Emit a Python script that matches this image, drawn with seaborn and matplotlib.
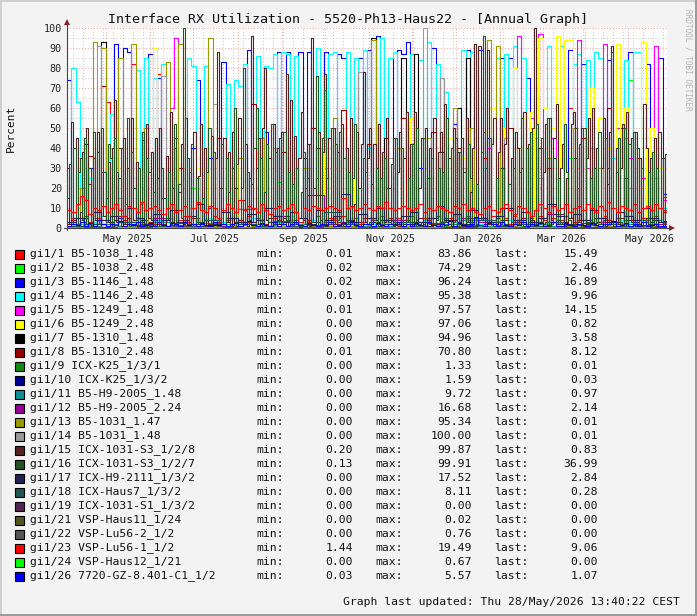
import numpy as np
import pandas as pd
import matplotlib
matplotlib.use("Agg")
import matplotlib.pyplot as plt
from matplotlib.patches import Rectangle, Polygon
from matplotlib.lines import Line2D
import seaborn as sns

# ---------------- data ----------------
START = pd.Timestamp("2025-04-03 13:40")
END = pd.Timestamp("2026-05-28 13:40")
SPAN_DAYS = 420

names = ["gi1/1 B5-1038_1.48", "gi1/2 B5-1038_2.48", "gi1/3 B5-1146_1.48",
         "gi1/4 B5-1146_2.48", "gi1/5 B5-1249_1.48", "gi1/6 B5-1249_2.48",
         "gi1/7 B5-1310_1.48", "gi1/8 B5-1310_2.48", "gi1/9 ICX-K25_1/3/1",
         "gi1/10 ICX-K25_1/3/2", "gi1/11 B5-H9-2005_1.48", "gi1/12 B5-H9-2005_2.24",
         "gi1/13 B5-1031_1.47", "gi1/14 B5-1031_1.48", "gi1/15 ICX-1031-S3_1/2/8",
         "gi1/16 ICX-1031-S3_1/2/7", "gi1/17 ICX-H9-2111_1/3/2", "gi1/18 ICX-Haus7_1/3/2",
         "gi1/19 ICX-1031-S1_1/3/2", "gi1/21 VSP-Haus11_1/24", "gi1/22 VSP-Lu56-2_1/2",
         "gi1/23 VSP-Lu56-1_1/2", "gi1/24 VSP-Haus12_1/21", "gi1/26 7720-GZ-8.401-C1_1/2"]
colors = ["#FF0000", "#00FF00", "#0000FF", "#00FFFF", "#FF00FF", "#FFFF00",
          "#000000", "#990000", "#148A14", "#000099", "#109090", "#990099",
          "#999900", "#999999", "#552222", "#225522", "#222255", "#225555",
          "#552255", "#555522", "#555555", "#FF0000", "#00FF00", "#0000FF"]
leg_min = [0.01, 0.02, 0.02, 0.01, 0.01, 0.00, 0.00, 0.01, 0.00, 0.00, 0.00, 0.00,
           0.00, 0.00, 0.20, 0.13, 0.00, 0.00, 0.00, 0.00, 0.00, 1.44, 0.00, 0.03]
leg_max = [83.86, 74.29, 96.24, 95.38, 97.57, 97.06, 94.96, 70.80, 1.33, 1.59, 9.72, 16.68,
           95.34, 100.00, 99.87, 99.91, 17.52, 8.11, 0.00, 0.02, 0.76, 19.49, 0.67, 5.57]
leg_last = [15.49, 2.46, 16.89, 9.96, 14.15, 0.82, 3.58, 8.12, 0.01, 0.03, 0.97, 2.14,
            0.01, 0.01, 0.83, 36.99, 2.84, 0.28, 0.00, 0.00, 0.00, 9.06, 0.00, 1.07]

gi1_1 = [3,5,2,4,6,3,2,5,4,63, 3,2,6,4,3,82,5,2,4,3,
         2,77,4,3,5,2,4,6,3,2, 5,3,4,2,6,3,2,4,5,3,
         4,2,6,3,5,4,2,3,5,4, 2,6,3,4,2,5,3,4,6,2,
         3,5,4,2,6,3,4,5,2,3, 5,4,2,6,3,4,2,5,3,4,
         6,2,3,5,4,2,6,3,4,5, 2,3,4,6,2,5,3,4,2,6,
         3,4,5,2,6,3,4,2,5,3, 6,4,2,5,3,4,6,60,3,2,
         45,4,3,5,2,6,4,3,5,2, 4,6,3,2,5,4,3,6,4,15.5]
gi1_2 = [0.5,1,0.3,2,0.8,1.5,0.4,1,2,0.6, 1,0.3,1.2,0.5,2,0.8,1,0.4,1.5,0.7,
         1,0.5,2,0.8,1.2,0.4,1,0.6,1.8,20, 0.5,1,0.3,1.5,0.8,1,0.4,2,0.6,1,
         0.8,1.5,0.4,1,2,0.6,1,0.3,1.5,23, 0.7,1,0.4,2,0.8,1.2,0.5,1,0.6,1.5,
         30,0.8,1,0.4,2,0.6,1.2,0.5,1,0.8, 1.5,0.4,1,2,0.6,1,0.3,1.5,0.8,1,
         0.5,2,0.8,1,25,0.6,1.5,0.4,1,0.8, 2,0.5,1,0.7,1.5,0.4,1,2,0.6,1,
         0.8,1.5,0.4,1,2,0.6,1,0.3,1.5,0.8, 1,0.5,2,0.8,1.2,0.4,1,35,0.6,1.5,
         1,0.5,2,0.8,1,0.4,1.5,0.6,1,0.8, 2,74,1,0.5,1.5,0.8,1,0.4,2,2.5]
gi1_3 = [74,2,1,3,1,30,1,4,2,1, 3,92,5,90,88,2,1,3,2,87,
         4,75,2,1,3,45,1,4,2,40, 74,2,1,35,2,1,83,3,2,1,
         4,2,89,3,1,2,48,3,2,88, 3,88,4,2,88,5,88,3,40,1,
         88,3,2,87,85,4,2,3,85,2, 89,3,96,2,4,85,3,89,87,93,
         3,2,30,1,3,90,2,75,3,2, 52,3,1,89,2,4,89,2,45,1,
         3,85,2,85,3,2,4,75,2,3, 1,2,35,3,2,1,3,89,2,4,
         82,3,2,1,3,2,84,3,2,50, 1,88,3,2,1,82,3,2,85,16.9]
gi1_4 = [3,80,63,4,2,25,3,2,6,3, 57,4,3,2,5,3,79,4,85,3,
         75,4,82,3,5,2,30,3,85,81, 4,3,81,5,2,4,3,72,4,74,
         71,82,3,5,86,4,81,80,87,3, 88,87,4,86,3,35,2,4,90,3,
         5,87,88,4,3,88,5,85,3,89, 40,2,5,95,3,85,88,4,3,5,
         87,3,84,4,93,5,82,3,68,4, 3,5,89,3,88,4,2,30,3,4,
         85,3,87,4,91,3,85,5,3,45, 2,5,91,3,4,91,3,5,82,87,
         4,84,3,88,85,4,3,35,2,4, 84,3,88,88,4,3,5,25,4,10]
gi1_5 = [0.5,1,0.3,0.8,1,0.5,0.2,1,0.6,0.4, 1,0.3,0.8,0.5,1,0.2,0.7,0.4,1,0.5,
         0.8,0.3,1,0.5,60,95,0.6,1,0.4,0.8, 0.5,1,0.3,0.7,1,0.4,0.6,1,0.5,0.8,
         1,0.4,0.7,1,0.5,0.8,0.3,1,0.6,0.4, 1,0.5,0.8,0.3,1,0.6,0.4,1,0.5,0.7,
         0.4,1,0.6,0.3,1,0.5,0.8,0.4,1,0.6, 0.3,1,0.5,0.7,1,0.4,0.6,1,0.3,0.8,
         1,0.5,0.7,0.4,1,0.6,0.3,1,0.5,0.8, 0.4,1,0.6,0.3,1,0.5,0.7,0.4,40,0.6,
         0.5,1,0.4,0.8,1,96,0.5,1,55,0.4, 97,1,0.6,45,1,0.5,0.8,1,0.4,94,
         1,30,0.6,1,0.5,92,0.8,1,50,0.4, 1,35,0.6,1,25,0.8,1,91,0.5,14.2]
gi1_6 = [0.3,0.5,0.2,0.6,0.4,0.3,0.5,0.2,0.4,0.6, 0.3,0.5,0.2,0.4,0.6,0.3,0.5,0.2,0.4,0.3,
         90,0.5,0.3,0.6,0.4,0.2,0.5,0.3,0.4,0.6, 30,0.3,0.5,0.2,0.4,0.6,0.3,0.5,0.2,0.4,
         0.6,0.3,0.5,0.2,0.4,35,0.3,0.5,0.2,0.4, 0.6,0.3,40,0.5,0.2,0.4,0.6,0.3,0.5,45,
         0.3,0.5,0.2,0.4,0.6,0.3,30,0.5,0.2,0.4, 0.6,0.3,0.5,0.2,0.4,0.6,0.3,0.5,0.2,0.4,
         55,0.3,0.5,0.2,0.4,0.6,0.3,0.5,0.2,45, 0.4,0.6,35,0.3,0.5,0.2,0.4,0.6,0.3,60,
         0.5,50,0.3,0.6,80,0.4,55,0.2,58,0.5, 95,60,0.3,50,96,0.4,94,94,0.3,0.5,
         45,0.4,70,0.3,55,0.6,40,0.5,92,0.3, 60,0.4,0.5,0.3,93,0.6,50,0.4,30,0.8]
gi1_7 = [0.5,1,0.3,0.8,42,0.5,0.2,1,93,0.4, 1,0.3,0.8,0.5,1,0.2,0.7,0.4,1,0.5,
         0.8,0.3,1,0.5,0.6,0.4,0.6,1,0.4,0.8, 0.5,1,0.3,0.7,1,0.4,0.6,1,0.5,20,
         1,0.4,0.7,1,0.5,0.8,0.3,1,0.6,0.4, 1,0.5,0.8,0.3,1,35,0.4,1,0.5,0.7,
         0.4,1,0.6,0.3,1,0.5,0.8,0.4,1,0.6, 0.3,95,0.5,0.7,45,0.4,0.6,1,85,0.8,
         1,87,0.7,0.4,1,0.6,0.3,38,0.5,0.8, 0.4,60,0.6,85,1,0.5,0.7,0.4,1,0.6,
         0.5,30,0.4,0.8,1,0.6,0.5,1,0.7,0.4, 40,1,0.6,0.3,1,0.5,0.8,1,35,0.6,
         1,0.5,0.6,1,0.5,0.4,0.8,1,0.6,0.4, 25,0.5,0.6,1,0.3,0.8,1,0.5,0.4,3.6]
gi1_8 = [2,4,1,3,5,36,2,4,71,3, 1,4,40,2,5,3,1,4,2,3,
         5,2,4,1,3,2,30,4,2,5, 3,1,4,2,3,45,2,5,1,3,
         4,2,3,62,1,4,2,5,3,2, 38,4,1,3,5,2,4,50,3,1,
         4,2,5,3,59,1,4,2,3,5, 42,1,3,4,2,5,3,1,55,4,
         2,3,5,1,4,48,2,3,5,1, 4,40,2,5,3,1,4,35,2,3,
         5,1,4,50,2,3,5,1,4,2, 3,5,30,1,4,2,3,5,1,4,
         45,2,3,5,1,4,60,2,3,5, 1,4,2,35,3,5,1,4,2,8.1]
gi1_9 = [0.2,0.5,0.1,0.8,0.3,0.4,1.3,0.2,0.6,0.1, 0.4,0.3,0.7,0.2,0.5,0.1,0.9,0.3,0.2,0.6,
         0.4,0.1,0.5,0.3,0.8,0.2,0.4,0.6,0.1,0.3, 0.5,0.2,0.4,0.1,0.01]
gi1_10 = [0.3,0.1,0.6,0.2,0.9,0.4,0.2,0.5,1.6,0.3, 0.1,0.7,0.2,0.4,0.3,0.8,0.1,0.5,0.3,0.2,
          0.6,0.4,0.1,0.9,0.3,0.2,0.5,0.4,0.1,0.7, 0.3,0.2,0.5,0.1,0.03]
gi1_11 = [0.5,1,2,0.8,1.5,3,0.7,1.2,2.5,0.6, 9.7,1,0.8,2,1.5,0.5,3,1.2,0.8,2,
          1,0.6,1.8,4,0.9,1.3,0.7,2.2,1,0.5, 1.6,0.8,2,1.1,0.97]
gi1_12 = [1,2,0.5,3,1.5,5,2.5,1,4,0.8, 2,1.2,6,0.8,16.7,2,3,0.7,1.8,4,
          1,2.5,0.6,5,3,1,2,0.8,7,1.5, 2.7,3.2,1,1.6,2.14]
gi1_13 = [0.5,1,0.3,20,1,0.5,93,91,90,0.4, 1,0.3,85,0.5,1,92,0.7,0.4,50,0.5,
          0.8,0.3,1,83,0.6,0.4,92,1,0.4,0.8, 0.5,1,0.3,95,1,0.4,0.6,1,0.5,0.8,
          35,0.4,0.7,1,0.5,45,0.3,1,0.6,0.4, 1,0.5,0.8,0.3,1,30,0.4,1,0.5,0.7,
          0.4,1,55,0.3,1,0.5,0.8,0.4,1,0.6, 0.3,94,0.5,0.7,1,0.4,0.6,40,0.3,0.8,
          1,0.5,0.7,0.4,45,0.6,0.3,1,0.5,0.8, 60,1,0.6,0.3,50,0.5,0.7,0.4,94,0.6,
          91,1,0.4,0.8,1,40,0.5,1,0.7,0.4, 1,0.5,35,0.3,1,0.5,0.8,1,50,0.6,
          1,0.5,0.6,1,30,0.4,0.8,1,0.6,0.4, 45,0.5,0.6,1,0.3,0.8,1,0.5,0.4,0.01]
gi1_14 = [0.3,0.5,0.2,0.6,0.4,0.3,0.5,91,0.4,0.6, 0.3,0.5,15,0.4,0.6,0.3,0.5,0.2,0.4,0.3,
          0.5,0.4,76,0.6,0.4,0.2,0.5,0.3,0.4,0.6, 25,0.3,0.5,0.2,62,0.6,0.3,0.5,0.2,0.4,
          0.6,0.3,0.5,0.2,0.4,0.5,0.3,0.5,40,0.4, 0.6,0.3,0.4,0.5,0.2,0.4,30,0.3,0.5,0.4,
          0.3,0.5,0.2,0.4,0.6,0.3,0.4,0.5,78,0.4, 0.6,0.3,0.5,0.2,0.4,35,0.3,0.5,0.2,0.4,
          0.5,0.3,0.5,100,0.4,0.6,0.3,75,0.2,0.5, 0.4,0.6,30,0.3,0.5,0.2,0.4,0.6,0.3,0.5,
          0.5,0.4,45,0.6,0.3,0.4,0.5,0.2,0.5,0.5, 25,0.6,0.3,0.5,0.4,0.4,0.5,0.2,0.3,0.5,
          0.4,0.4,40,0.3,0.5,0.6,0.4,0.5,0.3,0.3, 0.6,20,0.5,0.3,0.4,0.6,0.5,0.4,0.3,0.01]
gi1_15 = [30,2,53,5,45,1,8,38,3,50, 22,1,35,4,48,2,28,6,15,33,
          2,40,64,3,25,1,45,6,30,2, 55,4,33,1,12,44,2,52,5,38,
          1,45,3,50,15,2,36,5,58,1, 40,3,18,42,2,55,4,28,1,48,
          2,26,52,3,40,1,10,46,4,35, 88,2,20,45,3,38,1,48,5,32,
          55,2,14,42,1,25,96,3,30,45, 2,50,80,4,35,1,52,3,40,2,
          48,5,77,1,64,3,46,2,35,58, 4,20,42,1,95,3,25,48,2,38,
          77,1,45,4,50,2,38,5,52,1, 40,3,55,2,12,48,1,42,78,3,
          35,50,2,42,4,52,1,38,3,55, 20,2,45,5,28,48,1,35,58,3,
          42,1,58,4,20,45,2,50,3,40, 1,55,5,38,48,2,62,3,35,1,
          50,4,38,2,45,1,55,3,18,40, 92,2,91,5,48,1,89,3,42,55,
          2,38,55,4,42,60,1,35,3,48, 40,2,30,58,1,42,5,50,99.9,2,
          40,3,28,52,1,55,4,45,62,2, 30,42,1,25,5,52,58,2,20,3,
          50,1,35,55,4,60,2,40,3,30, 55,1,22,48,91,3,40,2,30,52,
          1,58,4,45,2,48,3,35,1,62, 40,2,35,4,45,1,48,3,35,0.83]
gi1_16 = [15,32,2,40,1,28,35,4,45,2, 30,1,48,5,38,2,50,28,3,42,
          35,1,45,28,3,40,2,12,55,1, 38,20,4,30,2,48,1,35,28,4,
          18,2,25,1,30,15,4,28,2,20, 52,1,22,5,100,3,35,2,42,1,
          25,2,3,15,4,28,50,2,38,4, 1,20,42,2,35,18,5,30,60,1,
          3,20,80,2,28,4,22,40,60,2, 35,1,18,42,3,52,2,38,4,45,
          2,48,3,28,1,22,4,30,5,18, 38,2,25,42,3,20,76,1,4,45,
          69,25,2,50,3,42,4,48,1,35, 2,28,4,25,52,1,20,2,35,28,
          2,3,22,4,30,1,25,2,35,20, 3,32,1,45,2,3,40,2,4,25,
          3,42,1,50,2,3,45,1,25,2, 35,2,4,30,1,28,3,55,2,40,
          3,45,1,38,2,28,3,42,25,2, 1,22,4,38,96,30,2,45,3,1,
          25,3,2,30,1,2,22,3,30,2, 4,28,55,1,40,3,48,2,1,52,
          3,45,2,3,55,1,2,35,4,25, 2,3,52,28,4,1,2,50,3,42,
          2,50,3,1,25,2,30,3,48,2, 4,45,30,2,88,1,28,45,3,1,
          50,2,42,3,48,1,40,2,30,4, 3,28,1,38,2,30,4,35,2,37]
gi1_17 = [3,5,2,8,4,6,3,10,5,2, 7,4,9,3,6,12,4,2,8,5, 3,7,4,10,6,3,8,5,2,9,
          4,6,17,3,7,5,10,4,2,6, 8,3,5,11,4,7,2,9,5,3, 6,10,4,8,3,5,12,6,2,7,
          4,9,5,3,8,6,4,10,5,2.8]
gi1_18 = [1,2,0.5,3,1.5,0.8,2.5,1,4,0.6, 2,1.2,3.5,0.8,1.5,8,2,0.7,1.8,3,
          1,2.5,0.6,1.5,4,1,2,0.8,3,1.5, 0.7,2.2,1,1.6,0.28]
gi1_19 = [0,0,0,0,0,0,0,0,0,0, 0,0,0,0,0,0,0,0,0,0, 0,0,0,0,0,0,0,0,0,0, 0,0,0,0,0]
gi1_21 = [0,0,0.01,0,0,0,0.02,0,0,0, 0,0.01,0,0,0,0,0,0.01,0,0, 0,0,0,0.02,0,0,0,0,0.01,0, 0,0,0,0,0]
gi1_22 = [0.1,0.3,0.05,0.2,0.4,0.1,0.76,0.2,0.1,0.3, 0.05,0.2,0.4,0.1,0.3,0.2,0.1,0.5,0.2,0.1,
          0.3,0.1,0.2,0.4,0.1,0.2,0.3,0.1,0.2,0.5, 0.1,0.3,0.2,0.1,0]
gi1_23 = [9,8,12,16,14,7,10,9,11,8, 10,12,9,6,11,10,8,13,9,10,
          11,9,7,10,12,8,9,11,6,10, 13,9,8,11,10,5,9,12,10,8,
          14,9,11,10,8,12,9,7,10,11, 9,10,12,8,3,10,9,11,10,9,
          10,11,10,9,15,10,11,9,10,12, 10,9,11,10,13,10,9,10,11,10,
          9,10,12,8,10,9,11,10,9,8, 11,10,12,9,10,8,7,10,11,9,
          8,10,12,9,7,11,10,8,6,9, 12,10,8,11,9,10,12,8,10,11,
          9,12,10,8,11,9,13,10,8,11, 10,9,12,8,10,11,9,12,10,9.06]
gi1_24 = [0.1,0.2,0.05,0.3,0.1,0.67,0.2,0.1,0.3,0.05, 0.2,0.1,0.4,0.1,0.2,0.3,0.1,0.2,0.05,0.1,
          0.3,0.1,0.2,0.1,0.4,0.2,0.1,0.3,0.1,0.2, 0.1,0.2,0.1,0.05,0]
gi1_26 = [1,2,1.5,3,1,2.5,1.2,4,1.8,1, 2.2,1.5,3.5,1,2,1.3,2.8,1,1.6,2.4,
          1.2,3,1.5,1,2.6,1.8,1,3.2,1.4,2, 1,2.5,1.7,1,3,1.3,2.2,1,1.8,2.7,
          1.1,2,3.4,1.5,1,2.3,1.6,1,2.8,1.2, 2,1,1.9,3.1,1.3,1,2.4,1.6,1,2.1,
          1.4,2.9,1,1.7,2.3,1,3.5,1.5,1,2.2, 1.8,1,2.6,1.3,1,2,1.5,3,1.1,1.8,
          1,2.4,1.6,1,2.9,1.3,1,2.1,1.7,3.3, 1,2.6,1.4,1,2,5.6,1.5,1,2.3,1.8,
          1,2.8,1.3,1,2.2,1.6,3,1,1.9,1.4, 2.5,1,1.7,3.2,1.2,1,2.4,1.6,1,2.1,
          1.5,1,2.7,1.3,1,2.2,1.8,3.4,1,1.6, 2.3,1,1.9,1.2,2.8,1,1.5,2.2,1,1.07]

values = [gi1_1, gi1_2, gi1_3, gi1_4, gi1_5, gi1_6, gi1_7, gi1_8, gi1_9, gi1_10,
          gi1_11, gi1_12, gi1_13, gi1_14, gi1_15, gi1_16, gi1_17, gi1_18, gi1_19,
          gi1_21, gi1_22, gi1_23, gi1_24, gi1_26]

title = "Interface RX Utilization - 5520-Ph13-Haus22 - [Annual Graph]"
ylabel = "Percent"
footer = "Graph last updated: Thu 28/May/2026 13:40:22 CEST"
watermark = "RRDTOOL / TOBI OETIKER"
yticks = list(range(0, 101, 10))

# ---------------- long table ----------------
frames = []
for nm, vals in zip(names, values):
    n = len(vals)
    step = pd.Timedelta(days=SPAN_DAYS / n)
    dates = [START + i * step for i in range(n)] + [END]
    frames.append(pd.DataFrame({"date": dates, "value": list(vals) + [vals[-1]], "series": nm}))
df = pd.concat(frames, ignore_index=True)

# ---------------- figure ----------------
sns.set_style("white")
plt.rcParams["font.family"] = ["DejaVu Sans Mono"]
W, H = 697, 616
BG = "#F3F3F3"
fig = plt.figure(figsize=(W / 100, H / 100), dpi=100, facecolor=BG)


def fx(x):
    return x / W


def fy(y):
    return 1 - y / H


L, R, T, B = 67, 667, 28, 228
ax = fig.add_axes([fx(L), fy(B), (R - L) / W, (B - T) / H])
ax.set_facecolor("white")
for s in ax.spines.values():
    s.set_visible(False)

# grid
minor_c, major_c = "#C8C8C8", "#EBA0A0"
dots = (0, (1, 2))
for d in pd.date_range(START, END, freq="W-MON"):
    ax.axvline(d, color=minor_c, lw=0.7, ls=dots, zorder=0.5)
month_starts = pd.date_range("2025-05-01", "2026-05-01", freq="MS")
for d in month_starts:
    ax.axvline(d, color=major_c, lw=0.7, ls=dots, zorder=0.6)
for v in range(5, 100, 10):
    ax.axhline(v, color=minor_c, lw=0.7, ls=dots, zorder=0.5)
for v in range(10, 101, 10):
    ax.axhline(v, color=major_c, lw=0.7, ls=dots, zorder=0.6)

sns.lineplot(data=df, x="date", y="value", hue="series", hue_order=names,
             palette=dict(zip(names, colors)), estimator=None, sort=False,
             drawstyle="steps-post", linewidth=0.8, legend=False, ax=ax, zorder=2)

ax.set_xlim(START, END)
ax.set_ylim(0, 100)
ax.set_xlabel("")
ax.set_ylabel("")
ax.set_yticks(yticks)
ax.set_yticklabels([str(v) for v in yticks])
ax.tick_params(axis="y", length=0, pad=3.6, labelsize=7.3, colors="#222222")
ax.set_xticks(month_starts)
ax.set_xticklabels([""] * len(month_starts))
ax.tick_params(axis="x", which="major", length=2.5, color="#E06060", width=0.7)
lab_dates = pd.date_range("2025-05-01", "2026-05-01", freq="2MS")
ax.set_xticks(lab_dates + pd.Timedelta(days=15), minor=True)
ax.set_xticklabels([d.strftime("%b %Y") for d in lab_dates], minor=True)
ax.tick_params(axis="x", which="minor", length=0, pad=4, labelsize=7.3, colors="#222222")

# axes lines + arrows
axis_c, arrow_c = "#444444", "#8B2020"
fig.add_artist(Line2D([fx(L), fx(L)], [fy(B + 2), fy(24)], color=axis_c, lw=0.8))
fig.add_artist(Line2D([fx(L - 3), fx(670)], [fy(B), fy(B)], color=axis_c, lw=0.8))
fig.add_artist(Polygon([[fx(L - 3), fy(25)], [fx(L + 3), fy(25)], [fx(L), fy(19)]],
                       closed=True, color=arrow_c, lw=0))
fig.add_artist(Polygon([[fx(669), fy(B - 3)], [fx(669), fy(B + 3)], [fx(675), fy(B)]],
                       closed=True, color=arrow_c, lw=0))

# texts
fig.text(fx(348), fy(19), title, ha="center", va="center", fontsize=9.6, color="#111111")
fig.text(fx(11), fy(128), ylabel, ha="center", va="center", rotation=90, fontsize=8, color="#111111")
fig.text(fx(688), fy(60), watermark, ha="center", va="center", rotation=270, fontsize=5.6,
         color="#B4B4B4")
fig.text(fx(680), fy(602), footer, ha="right", va="center", fontsize=8.2, color="#111111")

# legend
for k, nm in enumerate(names):
    yc = 254 + 14 * k
    fig.add_artist(Rectangle((fx(15), fy(yc + 4.5)), 9 / W, 9 / H, facecolor=colors[k],
                             edgecolor="black", lw=0.8))
    kw = dict(va="center", fontsize=8.2, color="#111111")
    fig.text(fx(30), fy(yc), nm, ha="left", **kw)
    fig.text(fx(256), fy(yc), "min:", ha="left", **kw)
    fig.text(fx(353), fy(yc), f"{leg_min[k]:.2f}", ha="right", **kw)
    fig.text(fx(375), fy(yc), "max:", ha="left", **kw)
    fig.text(fx(472), fy(yc), f"{leg_max[k]:.2f}", ha="right", **kw)
    fig.text(fx(494), fy(yc), "last:", ha="left", **kw)
    fig.text(fx(598), fy(yc), f"{leg_last[k]:.2f}", ha="right", **kw)

# frame (3D border)
fig.add_artist(Line2D([0, 1], [fy(1), fy(1)], color="#D0D0D0", lw=1.4))
fig.add_artist(Line2D([fx(1), fx(1)], [0, 1], color="#D0D0D0", lw=1.4))
fig.add_artist(Line2D([0, 1], [fy(615), fy(615)], color="#999999", lw=1.4))
fig.add_artist(Line2D([fx(696), fx(696)], [0, 1], color="#999999", lw=1.4))

fig.savefig("out.png", dpi=100, facecolor=BG)
